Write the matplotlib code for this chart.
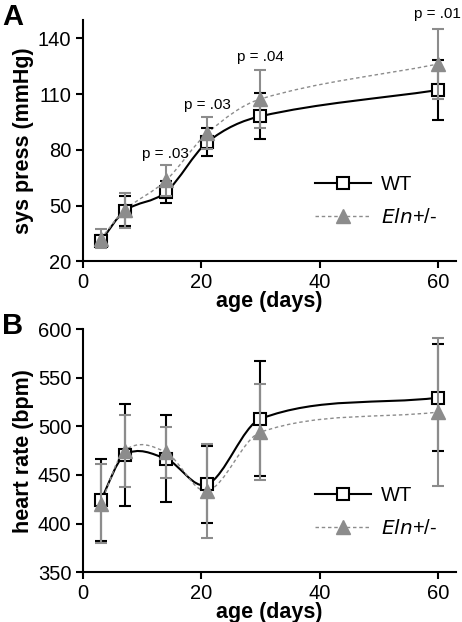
import numpy as np
import matplotlib
matplotlib.use('Agg')
import matplotlib.pyplot as plt
from matplotlib.path import Path
from matplotlib.patches import PathPatch
from matplotlib.lines import Line2D

plt.rcParams['font.family'] = ['Liberation Sans', 'DejaVu Sans']

age = [3, 7, 14, 21, 30, 60]

# panel A: systolic pressure (mmHg)
sp_wt = [30.9, 47.0, 57.3, 84.1, 98.1, 112.2]
sp_wt_err = [3, 8, 6, 7.5, 12.5, 16]
sp_eln = [32.2, 47.4, 63.5, 89.0, 107.4, 126.2]
sp_eln_err = [5, 9.5, 8.5, 8.5, 15.5, 19]
p_labels = ['p = .03', 'p = .03', 'p = .04', 'p = .01']
p_age = [14, 21, 30, 60]
p_y = [78, 104, 130, 153]

# panel B: heart rate (bpm)
hr_wt = [424.4, 470.5, 466.7, 440.2, 507.7, 529.4]
hr_wt_err = [42, 52, 45, 40, 59, 55]
hr_eln = [420.6, 475.0, 473.3, 433.7, 494.0, 514.6]
hr_eln_err = [41, 37, 26, 48, 49, 76]

GRAY = '#8c8c8c'


def smooth_path(x, y):
    # cubic hermite segments written as bezier curves
    x = np.asarray(x, float)
    y = np.asarray(y, float)
    n = len(x)
    m = np.zeros(n)
    m[0] = (y[1] - y[0]) / (x[1] - x[0])
    m[-1] = (y[-1] - y[-2]) / (x[-1] - x[-2])
    for i in range(1, n - 1):
        m[i] = (y[i + 1] - y[i - 1]) / (x[i + 1] - x[i - 1])
    verts = [(x[0], y[0])]
    codes = [Path.MOVETO]
    for i in range(n - 1):
        h = x[i + 1] - x[i]
        verts += [(x[i] + h / 3, y[i] + m[i] * h / 3),
                  (x[i + 1] - h / 3, y[i + 1] - m[i + 1] * h / 3),
                  (x[i + 1], y[i + 1])]
        codes += [Path.CURVE4] * 3
    return Path(verts, codes)


def panel(ax, wt, wt_err, eln, eln_err, ylim, yticks, ylabel, letter):
    ax.add_patch(PathPatch(smooth_path(age, wt), fc='none', ec='k', lw=1.5, zorder=2))
    ax.add_patch(PathPatch(smooth_path(age, eln), fc='none', ec=GRAY, lw=1.0,
                           ls=(0, (2.5, 2)), zorder=2))
    ax.errorbar(age, wt, yerr=wt_err, fmt='s', color='k', mfc='white', mec='k',
                ms=8, mew=1.5, elinewidth=1.5, capsize=4, capthick=1.5, zorder=3)
    ax.errorbar(age, eln, yerr=eln_err, fmt='^', color=GRAY, mfc=GRAY, mec=GRAY,
                ms=10.5, elinewidth=1.5, capsize=4, capthick=1.5, zorder=4)
    ax.set_xlim(0, 63)
    ax.set_ylim(*ylim)
    ax.set_xticks([0, 20, 40, 60])
    ax.set_yticks(yticks)
    ax.spines['top'].set_visible(False)
    ax.spines['right'].set_visible(False)
    ax.spines['left'].set_linewidth(1.5)
    ax.spines['bottom'].set_linewidth(1.5)
    ax.tick_params(width=1.5, length=5, labelsize=14.5)
    ax.set_xlabel('age (days)', fontsize=15.5, fontweight='bold', labelpad=-1)
    ax.set_ylabel(ylabel, fontsize=15.5, fontweight='bold', labelpad=3)
    ax.text(-0.218, 1.07, letter, transform=ax.transAxes, fontsize=21,
            fontweight='bold', va='top', ha='left')
    h1 = Line2D([], [], color='k', lw=1.5, marker='s', mfc='white', mec='k',
                ms=8, mew=1.5)
    h2 = Line2D([], [], color=GRAY, lw=1.0, ls=(0, (2.5, 2)), marker='^',
                mfc=GRAY, mec=GRAY, ms=10.5)
    ax.legend([h1, h2], ['WT', r'$\it{Eln}$+/-'], loc='lower right',
              bbox_to_anchor=(1.0, 0.065), frameon=False, fontsize=14.5,
              handlelength=2.8, labelspacing=0.7, handletextpad=0.5)


fig = plt.figure(figsize=(4.62, 6.22), dpi=100)
axA = fig.add_axes([0.18, 0.58, 0.806, 0.388])
axB = fig.add_axes([0.18, 0.08, 0.806, 0.391])

panel(axA, sp_wt, sp_wt_err, sp_eln, sp_eln_err, (20, 150),
      [20, 50, 80, 110, 140], 'sys press (mmHg)', 'A')
for lab, xa, ya in zip(p_labels, p_age, p_y):
    axA.text(xa, ya, lab, ha='center', va='center', fontsize=11, clip_on=False)

panel(axB, hr_wt, hr_wt_err, hr_eln, hr_eln_err, (350, 600),
      [350, 400, 450, 500, 550, 600], 'heart rate (bpm)', 'B')

fig.savefig('out.png', dpi=100)
